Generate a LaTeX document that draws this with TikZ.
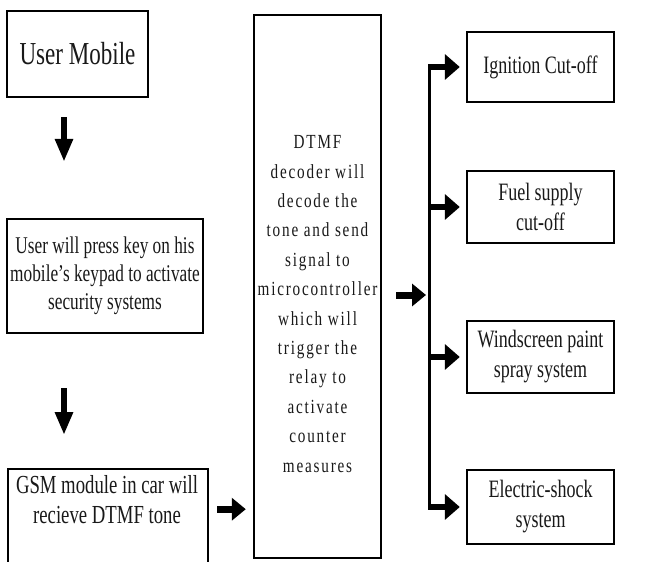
\documentclass[tikz,border=0pt]{standalone}
\usepackage{fontspec}
\setmainfont{Liberation Serif}
\newfontfamily\cnd[FakeStretch=0.72]{Liberation Serif}
\newfontfamily\dtf[FakeStretch=0.76,LetterSpace=9]{Liberation Serif}
\usetikzlibrary{arrows.meta}
\begin{document}
\begin{tikzpicture}[x=1pt,y=-1pt,
  box/.style={draw=black, line width=2.4pt, inner sep=0pt, fill=white, align=center, text=black!90},
  rbox/.style={box, minimum width=147pt, font=\cnd\fontsize{25}{30}\selectfont},
  txt/.style={align=center, inner sep=0pt, text=black!90},
  harr/.style={line width=6pt, -{Triangle[length=15pt,width=25pt]}},
  harrb/.style={line width=7pt, -{Triangle[length=14pt,width=22pt]}},
  varr/.style={line width=6.5pt, -{Triangle[length=23pt,width=17pt]}},
  busline/.style={line width=3pt}]
\useasboundingbox (0,0) rectangle (653,562);
\clip (0,0) rectangle (653,562);
% left column
\node[box, minimum width=141pt, minimum height=86pt, font=\cnd\fontsize{32}{36}\selectfont] (um) at (77.5,54) {User Mobile};
\node[box, minimum width=196pt, minimum height=114pt, font=\cnd\fontsize{24}{28}\selectfont] (press) at (105,276) {User will press key on his\\ mobile’s keypad to activate\\ security systems};
\node[box, minimum width=200pt, minimum height=130pt, anchor=north west] (gsm) at (7,468) {};
\node[txt, font=\cnd\fontsize{26}{30}\selectfont] (gsmt) at (107,500) {GSM module in car will\\ recieve DTMF tone};
% centre
\node[box, minimum width=127pt, minimum height=543pt] (dtmf) at (317.5,286.5) {};
\node[txt, font=\dtf\fontsize{20}{29.4}\selectfont] (dtmft) at (317.5,304) {DTMF\\ decoder will\\ decode the\\ tone and send\\ signal to\\ microcontroller\\ which will\\ trigger the\\ relay to\\ activate\\ counter\\ measures};
% right column
\node[rbox, minimum height=70pt] (ign) at (540.5,67) {Ignition Cut-off};
\node[rbox, minimum height=72pt] (fuel) at (540.5,207) {Fuel supply\\ cut-off};
\node[rbox, minimum height=72pt] (wind) at (540.5,357) {Windscreen paint\\ spray system};
\node[rbox, minimum height=74pt] (elec) at (540.5,507) {Electric-shock\\ system};
% bus
\coordinate (bt) at (429,64);
\coordinate (bb) at (429,510);
\draw[busline] (bt) -- (bb);
\draw[harr, shorten >=6pt] (ign.west -| bt) -- (ign.west);
\draw[harr, shorten >=6pt] (fuel.west -| bt) -- (fuel.west);
\draw[harr, shorten >=6pt] (wind.west -| bt) -- (wind.west);
\draw[harr, shorten >=6pt] (elec.west -| bt) -- (elec.west);
% connectors
\draw[varr, shorten <=19pt, shorten >=56pt] ([xshift=-13.5pt]um.south) -- ([xshift=-13.5pt]um.south |- press.north);
\draw[varr, shorten <=54pt, shorten >=33pt] ([xshift=-41pt]press.south) -- ([xshift=-41pt]press.south |- gsm.north);
\draw[harrb, shorten <=8pt, shorten >=7pt] ([yshift=25pt]gsm.east) -- ([yshift=25pt]gsm.east -| dtmf.west);
\draw[harrb, shorten <=14pt, shorten >=3pt] ([yshift=-8.5pt]dtmf.east) -- ([yshift=-8.5pt]dtmf.east -| bt);
\end{tikzpicture}
\end{document}
